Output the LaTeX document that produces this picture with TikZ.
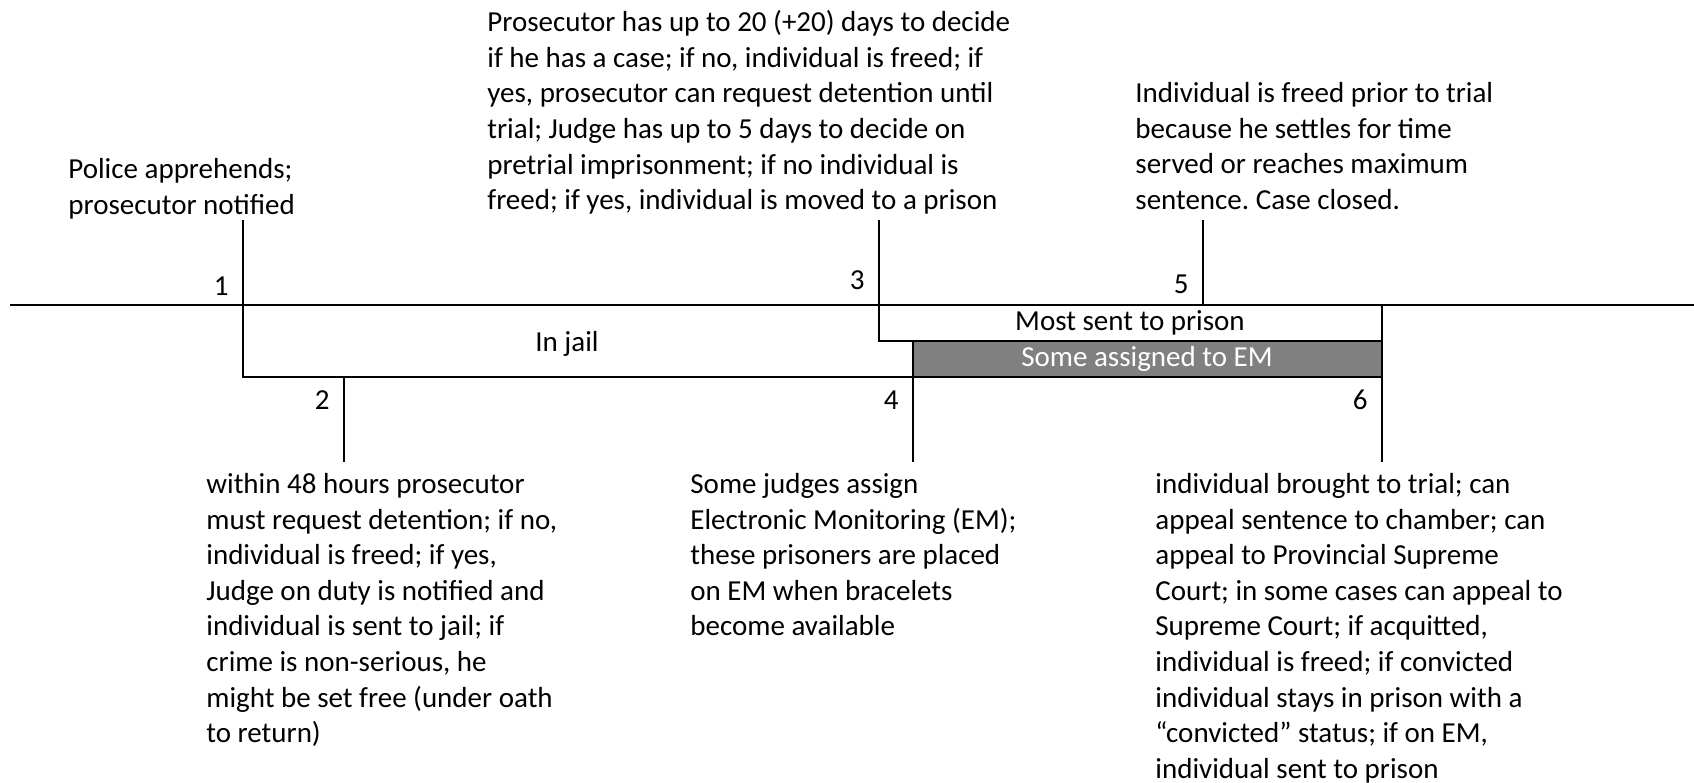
\documentclass[tikz,border=0pt]{standalone}
\usepackage{fontspec}
\setmainfont{Carlito}
\usepackage{xcolor}
\colorlet{colorEM}{black!50}
\colorlet{colorLine}{black}
\usetikzlibrary{positioning}
\frenchspacing
\tikzset{every node/.style={font=\fontsize{29}{35.6}\selectfont}}

\begin{document}
\begin{tikzpicture}[x=1pt, y=-1pt, line width=2.8pt, line cap=rect,
  note/.style={align=left, inner sep=0pt, anchor=north west},
  num/.style={inner sep=0pt, anchor=east},
  phase/.style={inner sep=0pt}]
\useasboundingbox (0,0) rectangle (1694,783);
% time line and stages
\coordinate (start) at (11,305);
\coordinate (end) at (1694,305);
\coordinate (s1) at (243,305);
\coordinate (s1top) at (243,221);
\coordinate (jailL) at (243,377);
\coordinate (s2) at (344,377);
\coordinate (s2bot) at (344,461);
\coordinate (s3) at (879,305);
\coordinate (s3top) at (879,221);
\coordinate (s3low) at (879,341);
\coordinate (s4) at (913,377);
\coordinate (s4top) at (913,341);
\coordinate (s4bot) at (913,461);
\coordinate (s5) at (1203,305);
\coordinate (s5top) at (1203,221);
\coordinate (s6top) at (1382,305);
\coordinate (s6mid) at (1382,341);
\coordinate (s6) at (1382,377);
\coordinate (s6bot) at (1382,461);

\fill[colorEM] (s4top) rectangle (s6);
\draw[colorLine] (start) -- (end);
\draw[colorLine] (s1top) -- (s1) -- (jailL) -- (s4);
\draw[colorLine] (s2) -- (s2bot);
\draw[colorLine] (s3top) -- (s3) -- (s3low) -- (s4top) -- (s6mid);
\draw[colorLine] (s4top) -- (s4bot);
\draw[colorLine] (s4) -- (s6);
\draw[colorLine] (s5top) -- (s5);
\draw[colorLine] (s6top) -- (s6bot);

\node[num] (n1) at (230,286) {1};
\node[num] (n2) at (331,400) {2};
\node[num] (n3) at (866,280) {3};
\node[num] (n4) at (900,400) {4};
\node[num] (n5) at (1190,284) {5};
\node[num] (n6) at (1369,400) {6};

\node[phase] (jail) at (567,344) {In jail};
\node[phase] (prison) at (1130,323) {Most sent to prison};
\node[phase, text=white] (em) at (1147,359) {Some assigned to EM};

\node[note] (police) at (67,157) {Police apprehends;\\prosecutor notified};
\node[note] (prosecutor) at (486,9) {Prosecutor has up to 20 (+20) days to decide\\if he has a case; if no, individual is freed; if\\yes, prosecutor can request detention until\\trial; Judge has up to 5 days to decide on\\pretrial imprisonment; if no individual is\\freed; if yes, individual is moved to a prison};
\node[note] (freed) at (1134,81) {Individual is freed prior to trial\\because he settles for time\\served or reaches maximum\\sentence. Case closed.};
\node[note] (detention) at (205,472) {within 48 hours prosecutor\\must request detention; if no,\\individual is freed; if yes,\\Judge on duty is notified and\\individual is sent to jail; if\\crime is non-serious, he\\might be set free (under oath\\to return)};
\node[note] (judges) at (689,472) {Some judges assign\\Electronic Monitoring (EM);\\these prisoners are placed\\on EM when bracelets\\become available};
\node[note] (trial) at (1154,472) {individual brought to trial; can\\appeal sentence to chamber; can\\appeal to Provincial Supreme\\Court; in some cases can appeal to\\Supreme Court; if acquitted,\\individual is freed; if convicted\\individual stays in prison with a\\“convicted” status; if on EM,\\individual sent to prison};
\end{tikzpicture}
\end{document}
